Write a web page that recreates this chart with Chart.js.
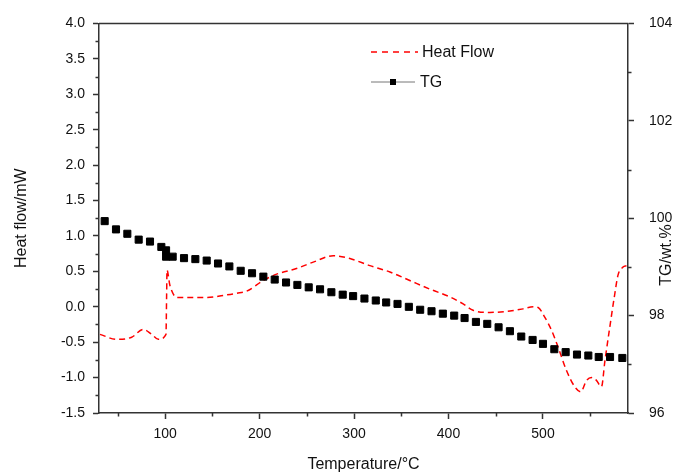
<!DOCTYPE html>
<html>
<head>
<meta charset="utf-8">
<script src="https://cdn.jsdelivr.net/npm/chart.js@4.4.0/dist/chart.umd.min.js"></script>
<style>
  html, body { margin: 0; padding: 0; background: #fff; }
</style>
</head>
<body>
<canvas id="tgChart" width="675" height="475"></canvas>
<script>
// heat flow curve (mW)
const hfTemp = [31, 48.7, 64.6, 76.9, 85.8, 92.8, 100.9, 101.6, 102, 105.1, 112.9, 126.3, 143.9, 161.5, 176, 186.3,
  204, 218, 239, 256.8, 278, 295.6, 316.8, 338, 359, 380, 401.4, 415.5, 426, 443.8, 465, 479, 489.6, 494.9,
  502, 509, 516, 524.9, 533.7, 540, 546.1, 551.4, 556.6, 561.9, 565.6, 570.7, 576, 579.5, 584.8, 588.4];
const hfValue = [-0.39, -0.46, -0.43, -0.32, -0.39, -0.46, -0.39, 0.18, 0.52, 0.30, 0.13, 0.13, 0.13, 0.16, 0.19, 0.22,
  0.37, 0.46, 0.54, 0.63, 0.72, 0.68, 0.58, 0.49, 0.37, 0.25, 0.14, 0.04, -0.05, -0.08, -0.06, -0.03, 0.00, -0.01,
  -0.15, -0.33, -0.57, -0.90, -1.13, -1.20, -1.04, -1.00, -1.04, -1.13, -0.76, -0.29, 0.18, 0.45, 0.56, 0.58];

// TG points (wt.%)
const tgTemp = [36, 48, 60, 72, 84, 96, 101, 101, 108, 120, 132, 144, 156, 168, 180, 192, 204, 216, 228, 240,
  252, 264, 276, 288, 299, 311, 323, 334, 346, 358, 370, 382, 394, 406, 417, 429, 441, 453, 465, 477, 489,
  500, 512, 524, 536, 548, 559, 571, 584];
const tgValue = [99.94, 99.77, 99.68, 99.56, 99.52, 99.41, 99.34, 99.21, 99.21, 99.18, 99.16, 99.13, 99.07, 99.01,
  98.92, 98.87, 98.80, 98.74, 98.68, 98.63, 98.58, 98.54, 98.48, 98.43, 98.40, 98.35, 98.31, 98.27, 98.24,
  98.18, 98.12, 98.09, 98.04, 98.00, 97.95, 97.87, 97.83, 97.76, 97.68, 97.57, 97.50, 97.42, 97.31, 97.25,
  97.20, 97.18, 97.15, 97.15, 97.13];

const seriesNames = ["Heat Flow", "TG"];
const xTitle = "Temperature/°C";
const yLeftTitle = "Heat flow/mW";
const yRightTitle = "TG/wt.%";

const fontFamily = "'Liberation Sans', Arial, sans-serif";
const axisColor = "#333";
const textColor = "#111";
const red = "rgb(255, 0, 0)";

// major ticks get the long mark, minor ones are drawn short by the plugin
const isMinor = (ctx) => ctx.tick && ctx.tick.label === "";
const tickColorFn = (ctx) => (isMinor(ctx) ? "rgba(0,0,0,0)" : axisColor);

// top frame line, minor ticks, right axis title and the legend
const extrasPlugin = {
  id: "extras",
  afterDraw(chart) {
    const { ctx, chartArea: a, scales } = chart;
    ctx.save();
    ctx.strokeStyle = axisColor;
    ctx.lineWidth = 1.5;
    ctx.beginPath();
    ctx.moveTo(a.left, a.top);
    ctx.lineTo(a.right, a.top);
    ctx.stroke();

    // short minor ticks
    ctx.lineWidth = 1.5;
    ctx.beginPath();
    scales.x.ticks.forEach((t) => {
      if (t.label !== "") return;
      const px = Math.round(scales.x.getPixelForValue(t.value)) + 0.5;
      ctx.moveTo(px, a.bottom);
      ctx.lineTo(px, a.bottom + 3.5);
    });
    scales.y.ticks.forEach((t) => {
      if (t.label !== "") return;
      const py = Math.round(scales.y.getPixelForValue(t.value)) + 0.5;
      ctx.moveTo(a.left, py);
      ctx.lineTo(a.left - 3.5, py);
    });
    scales.y2.ticks.forEach((t) => {
      if (t.label !== "") return;
      const py = Math.round(scales.y2.getPixelForValue(t.value)) + 0.5;
      ctx.moveTo(a.right, py);
      ctx.lineTo(a.right + 3.5, py);
    });
    ctx.stroke();

    ctx.fillStyle = textColor;
    ctx.font = "16px " + fontFamily;
    ctx.textBaseline = "middle";

    // right title, reads bottom to top
    ctx.save();
    ctx.translate(667, 255);
    ctx.rotate(-Math.PI / 2);
    ctx.textAlign = "center";
    ctx.fillText(yRightTitle, 0, 0);
    ctx.restore();

    // legend
    ctx.textAlign = "left";
    ctx.strokeStyle = red;
    ctx.lineWidth = 1.5;
    ctx.setLineDash([6, 5]);
    ctx.beginPath();
    ctx.moveTo(371, 52);
    ctx.lineTo(418, 52);
    ctx.stroke();
    ctx.setLineDash([]);
    ctx.fillText(seriesNames[0], 422, 53);

    ctx.strokeStyle = "#777";
    ctx.lineWidth = 1;
    ctx.beginPath();
    ctx.moveTo(371, 82);
    ctx.lineTo(415, 82);
    ctx.stroke();
    ctx.fillStyle = "#000";
    ctx.fillRect(390, 79, 6, 6);
    ctx.fillStyle = textColor;
    ctx.fillText(seriesNames[1], 420, 83);
    ctx.restore();
  }
};

const ctx = document.getElementById("tgChart").getContext("2d");

const tickFont = { family: fontFamily, size: 14 };
const titleFont = { family: fontFamily, size: 16 };

new Chart(ctx, {
  type: "scatter",
  data: {
    datasets: [
      {
        label: seriesNames[1],
        data: tgTemp.map((t, i) => ({ x: t, y: tgValue[i] })),
        yAxisID: "y2",
        showLine: false,
        pointStyle: "rect",
        pointRadius: 5,
        backgroundColor: "#000",
        borderColor: "#000",
        borderWidth: 1,
        order: 0
      },
      {
        label: seriesNames[0],
        data: hfTemp.map((t, i) => ({ x: t, y: hfValue[i] })),
        yAxisID: "y",
        showLine: true,
        borderColor: red,
        borderWidth: 1.5,
        borderDash: [6, 4],
        pointRadius: 0,
        cubicInterpolationMode: "monotone",
        fill: false,
        order: 1
      }
    ]
  },
  options: {
    responsive: false,
    animation: false,
    layout: { padding: { top: 23, left: 0, right: 0, bottom: 0 } },
    plugins: {
      legend: { display: false },
      tooltip: { enabled: false }
    },
    scales: {
      x: {
        type: "linear",
        min: 30,
        max: 590,
        ticks: {
          stepSize: 50,
          includeBounds: false,
          autoSkip: false,
          maxRotation: 0,
          padding: 7,
          color: textColor,
          font: tickFont,
          callback: (v) => (v % 100 === 0 ? v : "")
        },
        grid: { drawOnChartArea: false, tickLength: 6, tickColor: tickColorFn, tickWidth: 1.5 },
        border: { color: axisColor, width: 1.5 },
        title: { display: true, text: xTitle, color: textColor, font: titleFont, padding: { top: 0, bottom: 1 } },
        afterFit: (s) => { s.height = 62; }
      },
      y: {
        position: "left",
        min: -1.5,
        max: 4,
        ticks: {
          stepSize: 0.25,
          autoSkip: false,
          padding: 8,
          color: textColor,
          font: tickFont,
          callback: (v) => (Math.abs(v * 2 - Math.round(v * 2)) < 1e-6 ? v.toFixed(1) : "")
        },
        grid: { drawOnChartArea: false, tickLength: 6, tickColor: tickColorFn, tickWidth: 1.5 },
        border: { color: axisColor, width: 1.5 },
        title: { display: true, text: yLeftTitle, color: textColor, font: titleFont, padding: { top: 12, bottom: 0 } },
        afterFit: (s) => { s.width = 99; }
      },
      y2: {
        position: "right",
        min: 96,
        max: 104,
        ticks: {
          stepSize: 1,
          autoSkip: false,
          padding: 15,
          color: textColor,
          font: tickFont,
          callback: (v) => (v % 2 === 0 ? v : "")
        },
        grid: { drawOnChartArea: false, tickLength: 6, tickColor: tickColorFn, tickWidth: 1.5 },
        border: { color: axisColor, width: 1.5 },
        afterFit: (s) => { s.width = 47; }
      }
    }
  },
  plugins: [extrasPlugin]
});
</script>
</body>
</html>
